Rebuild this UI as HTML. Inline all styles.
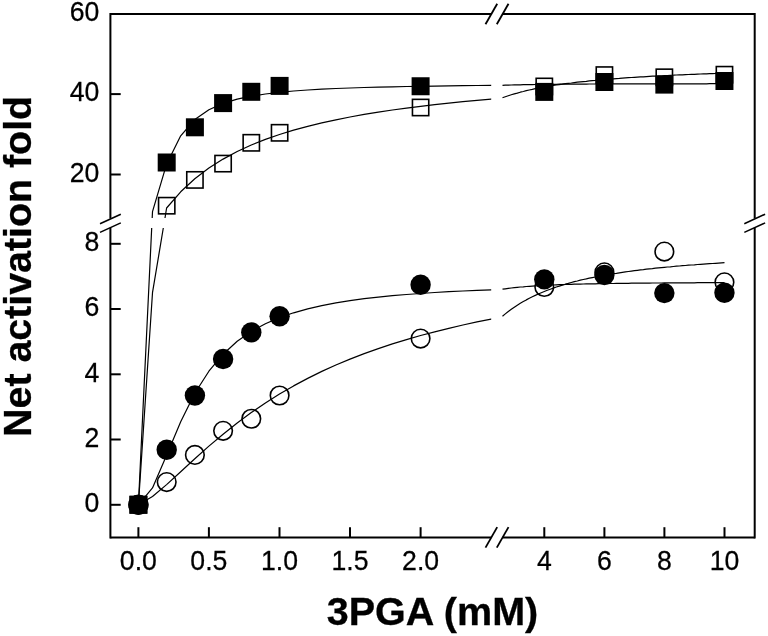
<!DOCTYPE html>
<html lang="en"><head><meta charset="utf-8"><title>Net activation fold vs 3PGA (mM)</title>
<style>html,body{margin:0;padding:0;background:#fff}svg{display:block}text{font-family:"Liberation Sans",sans-serif;fill:#000}</style></head><body>
<svg width="768" height="636" viewBox="0 0 768 636">
<rect width="768" height="636" fill="#fff"/>
<g stroke="#000" stroke-width="2.00" fill="none">
<path d="M110.40 13.10 V218.6 M110.40 227.7 V538.45"/>
<path d="M754.70 13.10 V218.6 M754.70 227.7 V538.45"/>
<path d="M110.40 14.10 H491.2 M502.5 14.10 H754.70"/>
<path d="M110.40 537.45 H491.2 M502.5 537.45 H754.70"/>
</g>
<g stroke="#000" stroke-width="1.8" fill="none">
<path d="M485.5 24.2 L497.2 3.7"/>
<path d="M496.8 24.2 L508.5 3.7"/>
<path d="M485.5 547.6 L497.2 527.1"/>
<path d="M496.8 547.6 L508.5 527.1"/>
<path stroke-width="1.55" d="M100.0 223.7 L120.8 214.2"/>
<path stroke-width="1.55" d="M100.0 232.4 L120.8 222.9"/>
<path stroke-width="1.55" d="M744.3 223.7 L765.1 214.2"/>
<path stroke-width="1.55" d="M744.3 232.4 L765.1 222.9"/>
</g>
<g stroke="#000" stroke-width="2.0" fill="none">
<path d="M138.4 537.45 V527.2"/>
<path d="M208.9 537.45 V527.2"/>
<path d="M279.5 537.45 V527.2"/>
<path d="M350.0 537.45 V527.2"/>
<path d="M420.6 537.45 V527.2"/>
<path d="M544.3 537.45 V527.2"/>
<path d="M604.4 537.45 V527.2"/>
<path d="M664.4 537.45 V527.2"/>
<path d="M724.5 537.45 V527.2"/>
<path d="M110.40 504.8 H120.7"/>
<path d="M110.40 439.5 H120.7"/>
<path d="M110.40 374.3 H120.7"/>
<path d="M110.40 309.0 H120.7"/>
<path d="M110.40 243.8 H120.7"/>
<path d="M110.40 174.5 H120.7"/>
<path d="M110.40 94.1 H120.7"/>
</g>
<g font-size="26.67" stroke="#000" stroke-width="0.25">
<text transform="translate(138.4 569.8) scale(1 1.025)" text-anchor="middle">0.0</text>
<text transform="translate(208.9 569.8) scale(1 1.025)" text-anchor="middle">0.5</text>
<text transform="translate(279.5 569.8) scale(1 1.025)" text-anchor="middle">1.0</text>
<text transform="translate(350.0 569.8) scale(1 1.025)" text-anchor="middle">1.5</text>
<text transform="translate(420.6 569.8) scale(1 1.025)" text-anchor="middle">2.0</text>
<text transform="translate(544.3 569.8) scale(1 1.025)" text-anchor="middle">4</text>
<text transform="translate(604.4 569.8) scale(1 1.025)" text-anchor="middle">6</text>
<text transform="translate(664.4 569.8) scale(1 1.025)" text-anchor="middle">8</text>
<text transform="translate(724.5 569.8) scale(1 1.025)" text-anchor="middle">10</text>
<text transform="translate(99.4 512.0) scale(1 1.025)" text-anchor="end">0</text>
<text transform="translate(99.4 446.8) scale(1 1.025)" text-anchor="end">2</text>
<text transform="translate(99.4 381.6) scale(1 1.025)" text-anchor="end">4</text>
<text transform="translate(99.4 316.3) scale(1 1.025)" text-anchor="end">6</text>
<text transform="translate(99.4 251.1) scale(1 1.025)" text-anchor="end">8</text>
<text transform="translate(99.4 181.8) scale(1 1.025)" text-anchor="end">20</text>
<text transform="translate(99.4 101.4) scale(1 1.025)" text-anchor="end">40</text>
<text transform="translate(99.4 21.4) scale(1 1.025)" text-anchor="end">60</text>
</g>
<text x="432.5" y="624.9" text-anchor="middle" font-size="38.7" font-weight="bold" stroke="#000" stroke-width="0.3" textLength="211.5" lengthAdjust="spacingAndGlyphs">3PGA (mM)</text>
<text transform="translate(31.4 266.4) rotate(-90)" text-anchor="middle" font-size="38.7" font-weight="bold" stroke="#000" stroke-width="0.3" textLength="341" lengthAdjust="spacingAndGlyphs">Net activation fold</text>
<g stroke="#000" stroke-width="1.2" fill="none" stroke-linejoin="round">
<path d="M152.2 218.0 L152.5 211.7 L166.6 164.2 L180.7 135.8 L194.8 119.5 L208.9 109.7 L223.1 103.4 L237.2 99.2 L251.3 96.2 L265.4 94.0 L279.5 92.3 L293.6 91.0 L307.7 90.0 L321.8 89.2 L335.9 88.5 L350.0 88.0 L364.2 87.5 L378.3 87.1 L392.4 86.8 L406.5 86.5 L420.6 86.3 L434.7 86.1 L448.8 85.9 L462.9 85.7 L477.0 85.5 L491.1 85.4 L491.2 85.4 M138.4 504.8 L151.7 228.0 M502.5 85.3 L505.3 85.2 L508.3 85.1 L511.3 85.0 L514.3 84.9 L517.3 84.8 L520.3 84.8 L523.3 84.7 L526.3 84.7 L529.3 84.6 L532.3 84.6 L535.3 84.5 L538.3 84.5 L541.3 84.4 L544.3 84.4 L547.3 84.4 L550.3 84.3 L553.3 84.3 L556.3 84.3 L559.3 84.2 L562.3 84.2 L565.3 84.2 L568.3 84.2 L571.3 84.1 L574.3 84.1 L577.3 84.1 L580.3 84.1 L583.3 84.1 L586.3 84.1 L589.3 84.0 L592.3 84.0 L595.4 84.0 L598.4 84.0 L601.4 84.0 L604.4 84.0 L607.4 84.0 L610.4 83.9 L613.4 83.9 L616.4 83.9 L619.4 83.9 L622.4 83.9 L625.4 83.9 L628.4 83.9 L631.4 83.9 L634.4 83.9 L637.4 83.9 L640.4 83.9 L643.4 83.9 L646.4 83.8 L649.4 83.8 L652.4 83.8 L655.4 83.8 L658.4 83.8 L661.4 83.8 L664.4 83.8 L667.4 83.8 L670.4 83.8 L673.4 83.8 L676.4 83.8 L679.4 83.8 L682.4 83.8 L685.4 83.8 L688.4 83.8 L691.4 83.8 L694.4 83.8 L697.5 83.8 L700.5 83.8 L703.5 83.8 L706.5 83.8 L709.5 83.7 L712.5 83.7 L715.5 83.7 L718.5 83.7 L721.5 83.7 L724.5 83.7"/>
<path d="M165.0 218.0 L166.6 208.0 L180.7 191.8 L194.8 178.8 L208.9 168.0 L223.1 159.1 L237.2 151.5 L251.3 145.0 L265.4 139.4 L279.5 134.5 L293.6 130.1 L307.7 126.3 L321.8 122.9 L335.9 119.8 L350.0 117.0 L364.2 114.4 L378.3 112.1 L392.4 110.0 L406.5 108.1 L420.6 106.3 L434.7 104.6 L448.8 103.1 L462.9 101.7 L477.0 100.3 L491.1 99.1 L491.2 99.1 M138.4 504.8 L152.5 292.7 L163.3 228.0 M502.5 97.8 L505.3 96.8 L508.3 95.8 L511.3 94.8 L514.3 93.9 L517.3 93.1 L520.3 92.2 L523.3 91.5 L526.3 90.7 L529.3 90.0 L532.3 89.4 L535.3 88.7 L538.3 88.1 L541.3 87.6 L544.3 87.0 L547.3 86.5 L550.3 86.0 L553.3 85.5 L556.3 85.0 L559.3 84.6 L562.3 84.2 L565.3 83.7 L568.3 83.3 L571.3 83.0 L574.3 82.6 L577.3 82.2 L580.3 81.9 L583.3 81.6 L586.3 81.3 L589.3 80.9 L592.3 80.6 L595.4 80.4 L598.4 80.1 L601.4 79.8 L604.4 79.5 L607.4 79.3 L610.4 79.0 L613.4 78.8 L616.4 78.6 L619.4 78.4 L622.4 78.1 L625.4 77.9 L628.4 77.7 L631.4 77.5 L634.4 77.3 L637.4 77.1 L640.4 76.9 L643.4 76.8 L646.4 76.6 L649.4 76.4 L652.4 76.2 L655.4 76.1 L658.4 75.9 L661.4 75.8 L664.4 75.6 L667.4 75.5 L670.4 75.3 L673.4 75.2 L676.4 75.0 L679.4 74.9 L682.4 74.8 L685.4 74.6 L688.4 74.5 L691.4 74.4 L694.4 74.3 L697.5 74.1 L700.5 74.0 L703.5 73.9 L706.5 73.8 L709.5 73.7 L712.5 73.6 L715.5 73.5 L718.5 73.4 L721.5 73.3 L724.5 73.2"/>
<path d="M138.4 504.8 L152.5 487.9 L166.6 455.2 L180.7 421.7 L194.8 393.3 L208.9 371.2 L223.1 354.2 L237.2 341.3 L251.3 331.4 L265.4 323.7 L279.5 317.6 L293.6 312.8 L307.7 308.8 L321.8 305.6 L335.9 302.9 L350.0 300.6 L364.2 298.7 L378.3 297.1 L392.4 295.7 L406.5 294.5 L420.6 293.5 L434.7 292.5 L448.8 291.7 L462.9 291.0 L477.0 290.3 L491.1 289.8 L491.2 289.8 M502.5 289.2 L505.3 288.8 L508.3 288.4 L511.3 288.0 L514.3 287.6 L517.3 287.3 L520.3 287.0 L523.3 286.8 L526.3 286.5 L529.3 286.3 L532.3 286.1 L535.3 285.9 L538.3 285.7 L541.3 285.5 L544.3 285.4 L547.3 285.2 L550.3 285.1 L553.3 285.0 L556.3 284.8 L559.3 284.7 L562.3 284.6 L565.3 284.5 L568.3 284.4 L571.3 284.3 L574.3 284.2 L577.3 284.2 L580.3 284.1 L583.3 284.0 L586.3 283.9 L589.3 283.9 L592.3 283.8 L595.4 283.8 L598.4 283.7 L601.4 283.7 L604.4 283.6 L607.4 283.6 L610.4 283.5 L613.4 283.5 L616.4 283.4 L619.4 283.4 L622.4 283.3 L625.4 283.3 L628.4 283.3 L631.4 283.2 L634.4 283.2 L637.4 283.2 L640.4 283.1 L643.4 283.1 L646.4 283.1 L649.4 283.1 L652.4 283.0 L655.4 283.0 L658.4 283.0 L661.4 283.0 L664.4 282.9 L667.4 282.9 L670.4 282.9 L673.4 282.9 L676.4 282.9 L679.4 282.8 L682.4 282.8 L685.4 282.8 L688.4 282.8 L691.4 282.8 L694.4 282.8 L697.5 282.7 L700.5 282.7 L703.5 282.7 L706.5 282.7 L709.5 282.7 L712.5 282.7 L715.5 282.7 L718.5 282.6 L721.5 282.6 L724.5 282.6"/>
<path d="M138.4 504.8 L152.5 496.5 L166.6 484.6 L180.7 471.7 L194.8 458.7 L208.9 446.1 L223.1 434.2 L237.2 423.0 L251.3 412.6 L265.4 403.0 L279.5 394.1 L293.6 385.9 L307.7 378.4 L321.8 371.4 L335.9 365.0 L350.0 359.1 L364.2 353.6 L378.3 348.6 L392.4 343.9 L406.5 339.6 L420.6 335.5 L434.7 331.8 L448.8 328.3 L462.9 325.0 L477.0 321.9 L491.1 319.1 L491.2 319.1 M502.5 316.2 L505.3 313.9 L508.3 311.5 L511.3 309.3 L514.3 307.2 L517.3 305.2 L520.3 303.3 L523.3 301.6 L526.3 299.9 L529.3 298.3 L532.3 296.8 L535.3 295.4 L538.3 294.0 L541.3 292.7 L544.3 291.5 L547.3 290.3 L550.3 289.2 L553.3 288.1 L556.3 287.0 L559.3 286.1 L562.3 285.1 L565.3 284.2 L568.3 283.4 L571.3 282.5 L574.3 281.7 L577.3 281.0 L580.3 280.2 L583.3 279.5 L586.3 278.9 L589.3 278.2 L592.3 277.6 L595.4 277.0 L598.4 276.4 L601.4 275.8 L604.4 275.3 L607.4 274.7 L610.4 274.2 L613.4 273.7 L616.4 273.3 L619.4 272.8 L622.4 272.3 L625.4 271.9 L628.4 271.5 L631.4 271.1 L634.4 270.7 L637.4 270.3 L640.4 269.9 L643.4 269.6 L646.4 269.2 L649.4 268.9 L652.4 268.6 L655.4 268.2 L658.4 267.9 L661.4 267.6 L664.4 267.3 L667.4 267.0 L670.4 266.8 L673.4 266.5 L676.4 266.2 L679.4 266.0 L682.4 265.7 L685.4 265.5 L688.4 265.2 L691.4 265.0 L694.4 264.8 L697.5 264.5 L700.5 264.3 L703.5 264.1 L706.5 263.9 L709.5 263.7 L712.5 263.5 L715.5 263.3 L718.5 263.1 L721.5 262.9 L724.5 262.7"/>
</g>
<g stroke="#000" stroke-width="1.60" fill="none">
<rect x="130.25" y="496.60" width="16.30" height="16.30"/>
<rect x="158.55" y="197.55" width="16.30" height="16.30"/>
<rect x="186.75" y="171.75" width="16.30" height="16.30"/>
<rect x="214.95" y="155.45" width="16.30" height="16.30"/>
<rect x="243.15" y="134.65" width="16.30" height="16.30"/>
<rect x="271.45" y="124.65" width="16.30" height="16.30"/>
<rect x="412.45" y="99.35" width="16.30" height="16.30"/>
<rect x="536.15" y="78.30" width="16.30" height="16.30"/>
<rect x="596.25" y="66.95" width="16.30" height="16.30"/>
<rect x="656.20" y="69.15" width="16.30" height="16.30"/>
<rect x="716.30" y="66.55" width="16.30" height="16.30"/>
<circle cx="138.40" cy="504.75" r="9.30"/>
<circle cx="166.70" cy="482.10" r="9.30"/>
<circle cx="194.90" cy="454.90" r="9.30"/>
<circle cx="223.10" cy="430.80" r="9.30"/>
<circle cx="251.30" cy="418.75" r="9.30"/>
<circle cx="279.60" cy="395.50" r="9.30"/>
<circle cx="420.60" cy="338.60" r="9.30"/>
<circle cx="544.30" cy="287.00" r="9.30"/>
<circle cx="604.40" cy="272.30" r="9.30"/>
<circle cx="664.35" cy="251.60" r="9.30"/>
<circle cx="724.45" cy="282.30" r="9.30"/>
</g>
<g fill="#000">
<rect x="129.40" y="495.75" width="18" height="18"/>
<rect x="157.70" y="153.50" width="18" height="18"/>
<rect x="185.90" y="118.30" width="18" height="18"/>
<rect x="214.10" y="94.10" width="18" height="18"/>
<rect x="242.30" y="82.80" width="18" height="18"/>
<rect x="270.60" y="76.90" width="18" height="18"/>
<rect x="411.60" y="77.25" width="18" height="18"/>
<rect x="535.30" y="82.90" width="18" height="18"/>
<rect x="595.40" y="73.00" width="18" height="18"/>
<rect x="655.35" y="75.60" width="18" height="18"/>
<rect x="715.45" y="72.00" width="18" height="18"/>
<circle cx="138.40" cy="504.75" r="10.2"/>
<circle cx="166.70" cy="449.80" r="10.2"/>
<circle cx="194.90" cy="395.45" r="10.2"/>
<circle cx="223.10" cy="359.00" r="10.2"/>
<circle cx="251.30" cy="332.40" r="10.2"/>
<circle cx="279.60" cy="316.30" r="10.2"/>
<circle cx="420.60" cy="284.80" r="10.2"/>
<circle cx="544.30" cy="279.40" r="10.2"/>
<circle cx="604.40" cy="275.00" r="10.2"/>
<circle cx="664.35" cy="293.10" r="10.2"/>
<circle cx="724.45" cy="292.70" r="10.2"/>
</g>
</svg></body></html>
